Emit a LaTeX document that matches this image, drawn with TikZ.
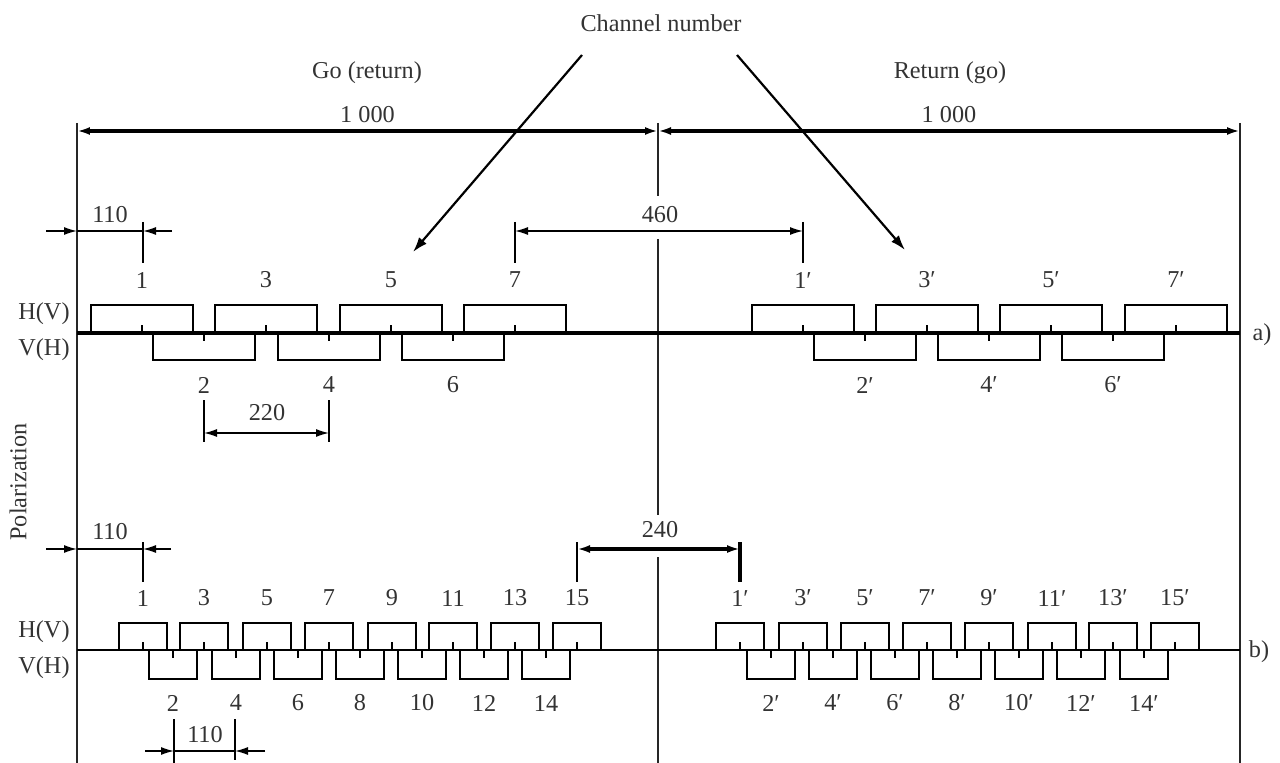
\documentclass[tikz,border=0pt]{standalone}
\usepackage{fontspec}
\setmainfont{Liberation Serif}
\usetikzlibrary{arrows.meta}

\begin{document}
\begin{tikzpicture}[
  x=0.02cm, y=-0.02cm,
  font=\fontsize{13.8}{15}\selectfont,
  >={Latex[length=2.6mm,width=1.6mm]},
  txt/.style={text=black!80, inner sep=1pt},
  frame/.style={draw=black!85, line width=0.95pt},
  base/.style={draw=black, line width=2pt},
  thinbase/.style={draw=black, line width=0.95pt},
  chan/.style={draw=black, line width=1.45pt},
  dim/.style={draw=black, line width=0.8pt},
  dimbold/.style={draw=black, line width=1.8pt},
  ext/.style={draw=black, line width=0.8pt},
  pointer/.style={->, draw=black, line width=1.25pt, >={Latex[length=3mm,width=2mm]}}
]
\useasboundingbox (0,0) rectangle (1280,763);

% Frame lines.
\draw[frame] (77,123) -- (77,763);
\draw[frame] (1240,123) -- (1240,763);
\draw[frame] (658,123) -- (658,196);
\draw[frame] (658,239) -- (658,515);
\draw[frame] (658,557) -- (658,763);

% Titles and pointers.
\node[txt] (chno) at (661,23) {Channel number};
\node[txt] (go) at (367,73) {Go (return)};
\node[txt] (ret) at (950,73) {Return (go)};
\coordinate (pl0) at (582,55);
\coordinate (pl1) at (413,252);
\coordinate (pr0) at (737,55);
\coordinate (pr1) at (905,250);
\draw[pointer] (pl0) -- (pl1);
\draw[pointer] (pr0) -- (pr1);

% Band widths.
\coordinate (kl) at (77,131);
\coordinate (km) at (658,131);
\coordinate (kr) at (1240,131);
\draw[dimbold, <->] (kl) -- node[txt, above=3pt] (k1) {1 000} (km);
\draw[dimbold, <->] (km) -- node[txt, above=3pt] (k2) {1 000} (kr);
\node[txt, rotate=90] (pol) at (18,482) {Polarization};

% a) spacing dimensions.
\coordinate (a0) at (77,231);
\coordinate (a1) at (143,231);
\draw[ext] (143,222) -- (143,263);
\draw[dim] (a0) -- (a1);
\draw[dim, ->] (46,231) -- (a0);
\draw[dim, ->] (172,231) -- (a1);
\node[txt] (a110) at (110,215) {110};

\coordinate (s7) at (515,231);
\coordinate (s1) at (803,231);
\draw[ext] (515,222) -- (515,263);
\draw[ext] (803,222) -- (803,263);
\draw[dim, <->] (s7) -- (s1);
\node[txt] (a460) at (660,215) {460};

\coordinate (e2) at (204,433);
\coordinate (e4) at (329,433);
\draw[ext] (204,400) -- (204,442);
\draw[ext] (329,400) -- (329,442);
\draw[dim, <->] (e2) -- (e4);
\node[txt] (a220) at (267,413) {220};

% a) channel arrangement.
\node[txt] (ahv) at (44,314) {H(V)};
\node[txt] (avh) at (44,350) {V(H)};
\node[txt] (alab) at (1262,335) {a)};
\draw[base] (77,333) -- (1240,333);

\draw[chan] (91,333) |- (193,305) -- (193,333) (142,333) -- (142,325);
\draw[chan] (215,333) |- (317,305) -- (317,333) (266,333) -- (266,325);
\draw[chan] (340,333) |- (442,305) -- (442,333) (391,333) -- (391,325);
\draw[chan] (464,333) |- (566,305) -- (566,333) (515,333) -- (515,325);
\draw[chan] (153,333) |- (255,360) -- (255,333) (204,333) -- (204,341);
\draw[chan] (278,333) |- (380,360) -- (380,333) (329,333) -- (329,341);
\draw[chan] (402,333) |- (504,360) -- (504,333) (453,333) -- (453,341);
\draw[chan] (752,333) |- (854,305) -- (854,333) (803,333) -- (803,325);
\draw[chan] (876,333) |- (978,305) -- (978,333) (927,333) -- (927,325);
\draw[chan] (1000,333) |- (1102,305) -- (1102,333) (1051,333) -- (1051,325);
\draw[chan] (1125,333) |- (1227,305) -- (1227,333) (1176,333) -- (1176,325);
\draw[chan] (814,333) |- (916,360) -- (916,333) (865,333) -- (865,341);
\draw[chan] (938,333) |- (1040,360) -- (1040,333) (989,333) -- (989,341);
\draw[chan] (1062,333) |- (1164,360) -- (1164,333) (1113,333) -- (1113,341);

\node[txt] (n1) at (142,280) {1};
\node[txt] (n3) at (266,280) {3};
\node[txt] (n5) at (391,280) {5};
\node[txt] (n7) at (515,280) {7};
\node[txt] (n2) at (204,385) {2};
\node[txt] (n4) at (329,385) {4};
\node[txt] (n6) at (453,385) {6};
\node[txt] (n1p) at (803,280) {1′};
\node[txt] (n3p) at (927,280) {3′};
\node[txt] (n5p) at (1051,280) {5′};
\node[txt] (n7p) at (1176,280) {7′};
\node[txt] (n2p) at (865,385) {2′};
\node[txt] (n4p) at (989,385) {4′};
\node[txt] (n6p) at (1113,385) {6′};

% b) spacing dimensions.
\coordinate (b0) at (77,549);
\coordinate (b1) at (143,549);
\draw[ext] (143,542) -- (143,582);
\draw[dim] (b0) -- (b1);
\draw[dim, ->] (46,549) -- (b0);
\draw[dim, ->] (171,549) -- (b1);
\node[txt] (b110) at (110,532) {110};

\coordinate (t15) at (577,549);
\coordinate (t1) at (740,549);
\draw[ext] (577,542) -- (577,582);
\draw[dimbold] (740,542) -- (740,582);
\draw[dimbold, <->] (t15) -- (t1);
\node[txt] (b240) at (660,530) {240};

\coordinate (f2) at (174,751);
\coordinate (f4) at (235,751);
\draw[ext] (174,719) -- (174,763);
\draw[ext] (235,719) -- (235,760);
\draw[dim] (f2) -- (f4);
\draw[dim, ->] (145,751) -- (f2);
\draw[dim, ->] (265,751) -- (f4);
\node[txt] (c110) at (205,735) {110};

% b) channel arrangement.
\node[txt] (bhv) at (44,632) {H(V)};
\node[txt] (bvh) at (44,668) {V(H)};
\node[txt] (blab) at (1259,652) {b)};
\draw[thinbase] (77,650) -- (1240,650);

\draw[chan] (119,650) |- (167,623) -- (167,650) (143,650) -- (143,642);
\draw[chan] (180,650) |- (228,623) -- (228,650) (204,650) -- (204,642);
\draw[chan] (243,650) |- (291,623) -- (291,650) (267,650) -- (267,642);
\draw[chan] (305,650) |- (353,623) -- (353,650) (329,650) -- (329,642);
\draw[chan] (368,650) |- (416,623) -- (416,650) (392,650) -- (392,642);
\draw[chan] (429,650) |- (477,623) -- (477,650) (453,650) -- (453,642);
\draw[chan] (491,650) |- (539,623) -- (539,650) (515,650) -- (515,642);
\draw[chan] (553,650) |- (601,623) -- (601,650) (577,650) -- (577,642);
\draw[chan] (149,650) |- (197,679) -- (197,650) (173,650) -- (173,658);
\draw[chan] (212,650) |- (260,679) -- (260,650) (236,650) -- (236,658);
\draw[chan] (274,650) |- (322,679) -- (322,650) (298,650) -- (298,658);
\draw[chan] (336,650) |- (384,679) -- (384,650) (360,650) -- (360,658);
\draw[chan] (398,650) |- (446,679) -- (446,650) (422,650) -- (422,658);
\draw[chan] (460,650) |- (508,679) -- (508,650) (484,650) -- (484,658);
\draw[chan] (522,650) |- (570,679) -- (570,650) (546,650) -- (546,658);

\draw[chan] (716,650) |- (764,623) -- (764,650) (740,650) -- (740,642);
\draw[chan] (779,650) |- (827,623) -- (827,650) (803,650) -- (803,642);
\draw[chan] (841,650) |- (889,623) -- (889,650) (865,650) -- (865,642);
\draw[chan] (903,650) |- (951,623) -- (951,650) (927,650) -- (927,642);
\draw[chan] (965,650) |- (1013,623) -- (1013,650) (989,650) -- (989,642);
\draw[chan] (1028,650) |- (1076,623) -- (1076,650) (1052,650) -- (1052,642);
\draw[chan] (1089,650) |- (1137,623) -- (1137,650) (1113,650) -- (1113,642);
\draw[chan] (1151,650) |- (1199,623) -- (1199,650) (1175,650) -- (1175,642);
\draw[chan] (747,650) |- (795,679) -- (795,650) (771,650) -- (771,658);
\draw[chan] (809,650) |- (857,679) -- (857,650) (833,650) -- (833,658);
\draw[chan] (871,650) |- (919,679) -- (919,650) (895,650) -- (895,658);
\draw[chan] (933,650) |- (981,679) -- (981,650) (957,650) -- (957,658);
\draw[chan] (995,650) |- (1043,679) -- (1043,650) (1019,650) -- (1019,658);
\draw[chan] (1057,650) |- (1105,679) -- (1105,650) (1081,650) -- (1081,658);
\draw[chan] (1120,650) |- (1168,679) -- (1168,650) (1144,650) -- (1144,658);

\node[txt] (m1) at (143,598) {1};
\node[txt] (m3) at (204,598) {3};
\node[txt] (m5) at (267,598) {5};
\node[txt] (m7) at (329,598) {7};
\node[txt] (m9) at (392,598) {9};
\node[txt] (m11) at (453,598) {11};
\node[txt] (m13) at (515,598) {13};
\node[txt] (m15) at (577,598) {15};
\node[txt] (m2) at (173,703) {2};
\node[txt] (m4) at (236,703) {4};
\node[txt] (m6) at (298,703) {6};
\node[txt] (m8) at (360,703) {8};
\node[txt] (m10) at (422,703) {10};
\node[txt] (m12) at (484,703) {12};
\node[txt] (m14) at (546,703) {14};
\node[txt] (m1p) at (740,598) {1′};
\node[txt] (m3p) at (803,598) {3′};
\node[txt] (m5p) at (865,598) {5′};
\node[txt] (m7p) at (927,598) {7′};
\node[txt] (m9p) at (989,598) {9′};
\node[txt] (m11p) at (1052,598) {11′};
\node[txt] (m13p) at (1113,598) {13′};
\node[txt] (m15p) at (1175,598) {15′};
\node[txt] (m2p) at (771,703) {2′};
\node[txt] (m4p) at (833,703) {4′};
\node[txt] (m6p) at (895,703) {6′};
\node[txt] (m8p) at (957,703) {8′};
\node[txt] (m10p) at (1019,703) {10′};
\node[txt] (m12p) at (1081,703) {12′};
\node[txt] (m14p) at (1144,703) {14′};

\end{tikzpicture}
\end{document}
